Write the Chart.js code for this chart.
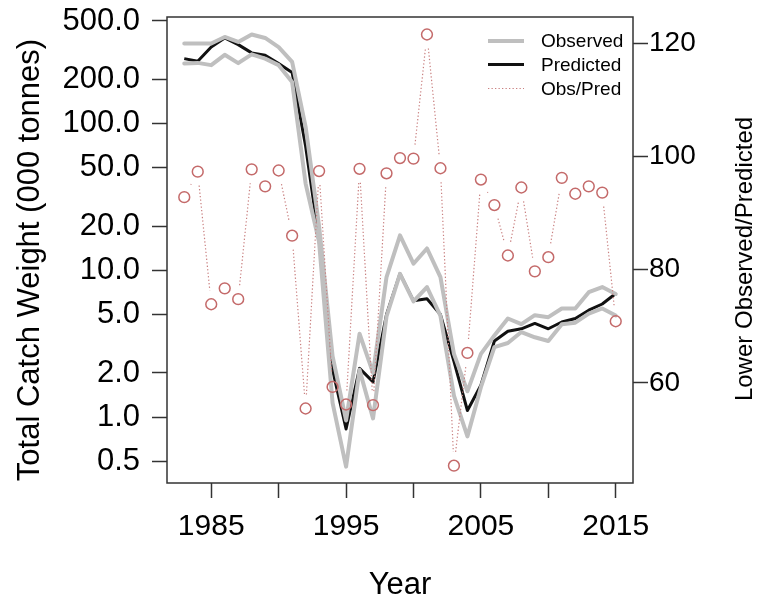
<!DOCTYPE html>
<html><head><meta charset="utf-8">
<script src="https://cdn.jsdelivr.net/npm/chart.js@4/dist/chart.umd.min.js"></script>
<style>html,body{margin:0;padding:0;background:#fff}#wrap{width:759px;height:603px}</style>
</head><body><div id="wrap"><canvas id="c" width="759" height="603"></canvas></div>
<script>
const years = [1983,1984,1985,1986,1987,1988,1989,1990,1991,1992,1993,1994,1995,1996,1997,1998,1999,2000,2001,2002,2003,2004,2005,2006,2007,2008,2009,2010,2011,2012,2013,2014,2015];
const observedUpper = [351,351,351,389,360,404,383,332,263,95,20,2.6,0.95,3.7,2.0,9.0,17.3,11.1,14.1,9.0,2.7,1.5,2.7,3.6,4.7,4.3,4.95,4.8,5.5,5.5,7.1,7.7,6.9];
const observedLower = [257,259,250,294,258,296,277,250,192,39,15.6,1.25,0.46,2.1,0.98,4.85,9.47,6.15,7.7,4.9,1.4,0.74,1.6,3.0,3.2,3.8,3.5,3.3,4.3,4.4,5.07,5.5,4.93];
const predicted = [277,266,332,383,345,303,292,256,223,70,16,2.1,0.83,2.15,1.74,5.0,9.5,6.2,6.4,5.0,2.4,1.11,1.65,3.3,3.85,4.0,4.35,4.0,4.45,4.7,5.35,5.9,6.95];
const obsPredRatio = [92.8,97.3,73.9,76.7,74.8,97.7,94.7,97.5,86.0,55.5,97.4,59.3,56.2,97.8,56.1,97.0,99.7,99.6,121.5,97.9,45.4,65.3,95.9,91.4,82.5,94.5,79.7,82.2,96.2,93.4,94.7,93.6,70.9];
const leftTicks = [0.5,1,2,5,10,20,50,100,200,500];
const rightTicks = [60,80,100,120];
const xTicks = [1985,1990,1995,2000,2005,2010,2015];
const xLabelled = [1985,1995,2005,2015];
const legendLabels = ['Observed','Predicted','Obs/Pred'];
const titleLeft = 'Total Catch Weight (000 tonnes)';
const titleRight = 'Lower Observed/Predicted';
const titleBottom = 'Year';

const FONT = "'Liberation Sans', Arial, Helvetica, sans-serif";
const GRAY = '#bfbfbf', BLACK = '#111111', RED = '#c46a6a', REDDOT = '#c98080', AXIS = '#333333';

const pts = arr => years.map((y,i)=>({x:y, y:arr[i]}));

const gapLinePlugin = {
  id:'gapLine',
  beforeDatasetDraw(chart, args){
    if (args.index !== 3) return;
    const ctx = chart.ctx, els = args.meta.data, gap = 14, ca = chart.chartArea;
    ctx.save();
    ctx.beginPath(); ctx.rect(ca.left, ca.top, ca.right-ca.left, ca.bottom-ca.top); ctx.clip();
    ctx.strokeStyle = REDDOT; ctx.lineWidth = 1.2; ctx.setLineDash([1.3,2.2]);
    for (let i=0;i<els.length-1;i++){
      const a = els[i], b = els[i+1];
      const dx = b.x-a.x, dy = b.y-a.y, L = Math.hypot(dx,dy);
      if (L <= 2*gap) continue;
      const ux = dx/L, uy = dy/L;
      ctx.beginPath();
      ctx.moveTo(a.x+ux*gap, a.y+uy*gap);
      ctx.lineTo(b.x-ux*gap, b.y-uy*gap);
      ctx.stroke();
    }
    ctx.restore();
  }
};

const decorPlugin = {
  id:'decor',
  afterDraw(chart){
    const ctx = chart.ctx, ca = chart.chartArea;
    ctx.save();
    ctx.strokeStyle = AXIS; ctx.lineWidth = 1.5; ctx.setLineDash([]);
    ctx.strokeRect(ca.left, ca.top, ca.right-ca.left, ca.bottom-ca.top);
    ctx.fillStyle = '#000';
    ctx.textAlign = 'center'; ctx.textBaseline = 'middle';
    ctx.font = `31px ${FONT}`;
    ctx.save(); ctx.translate(30, 260); ctx.rotate(-Math.PI/2); ctx.fillText(titleLeft, 0, 0); ctx.restore();
    ctx.font = `24px ${FONT}`;
    ctx.save(); ctx.translate(745, 259); ctx.rotate(-Math.PI/2); ctx.fillText(titleRight, 0, 0); ctx.restore();
    ctx.font = `31px ${FONT}`;
    ctx.fillText(titleBottom, (ca.left+ca.right)/2, 585);
    const ly = [41, 64.5, 88.5];
    const styles = [
      {c:GRAY, w:4, d:[]},
      {c:BLACK, w:3, d:[]},
      {c:REDDOT, w:1.2, d:[1.3,2.2]}
    ];
    ctx.font = `19px ${FONT}`; ctx.textAlign = 'left';
    legendLabels.forEach((t,i)=>{
      ctx.beginPath(); ctx.strokeStyle = styles[i].c; ctx.lineWidth = styles[i].w; ctx.setLineDash(styles[i].d);
      ctx.moveTo(488, ly[i]); ctx.lineTo(524, ly[i]); ctx.stroke();
      ctx.setLineDash([]);
      ctx.fillText(t, 541, ly[i]+1);
    });
    ctx.restore();
  }
};

const tickGrid = {drawOnChartArea:false, drawTicks:true, tickLength:15, tickColor:AXIS, tickWidth:1.5};

new Chart(document.getElementById('c'), {
  type:'line',
  data:{
    datasets:[
      {label:'Observed upper', data:pts(observedUpper), yAxisID:'y', borderColor:GRAY, borderWidth:4, pointRadius:0, order:2, borderJoinStyle:'round', borderCapStyle:'round'},
      {label:'Observed lower', data:pts(observedLower), yAxisID:'y', borderColor:GRAY, borderWidth:4, pointRadius:0, order:2, borderJoinStyle:'round', borderCapStyle:'round'},
      {label:'Predicted', data:pts(predicted), yAxisID:'y', borderColor:BLACK, borderWidth:3, pointRadius:0, order:3, borderJoinStyle:'round'},
      {label:'Obs/Pred', data:pts(obsPredRatio), yAxisID:'y1', showLine:false, pointRadius:5.4, pointBorderWidth:1.5, pointBorderColor:RED, pointBackgroundColor:'rgba(0,0,0,0)', order:0}
    ]
  },
  options:{
    responsive:false, animation:false, devicePixelRatio:1,
    layout:{padding:{top:17,left:0,right:0,bottom:0}},
    plugins:{legend:{display:false}, tooltip:{enabled:false}},
    scales:{
      x:{type:'linear', position:'bottom', min:1981.72, max:2016.28,
        afterBuildTicks:s=>{s.ticks = xTicks.map(v=>({value:v}));},
        afterFit:s=>{s.height=120; s.paddingLeft=0; s.paddingRight=0;},
        ticks:{autoSkip:false, maxRotation:0, padding:11, color:'#000', font:{family:FONT, size:30},
          callback:v=> xLabelled.includes(v) ? String(v) : ''},
        grid:tickGrid, border:{display:false}},
      y:{type:'logarithmic', position:'left', min:0.356, max:532,
        afterBuildTicks:s=>{s.ticks = leftTicks.map(v=>({value:v}));},
        afterFit:s=>{s.width=167; s.paddingTop=0; s.paddingBottom=0;},
        ticks:{autoSkip:false, padding:12, color:'#000', font:{family:FONT, size:31},
          callback:v=> Number(v).toFixed(1)},
        grid:tickGrid, border:{display:false}},
      y1:{type:'linear', position:'right', min:42.35, max:124.59,
        afterBuildTicks:s=>{s.ticks = rightTicks.map(v=>({value:v}));},
        afterFit:s=>{s.width=126; s.paddingTop=0; s.paddingBottom=0;},
        ticks:{autoSkip:false, padding:1, color:'#000', font:{family:FONT, size:28},
          callback:v=> String(v)},
        grid:tickGrid, border:{display:false}}
    }
  },
  plugins:[gapLinePlugin, decorPlugin]
});
</script></body></html>
